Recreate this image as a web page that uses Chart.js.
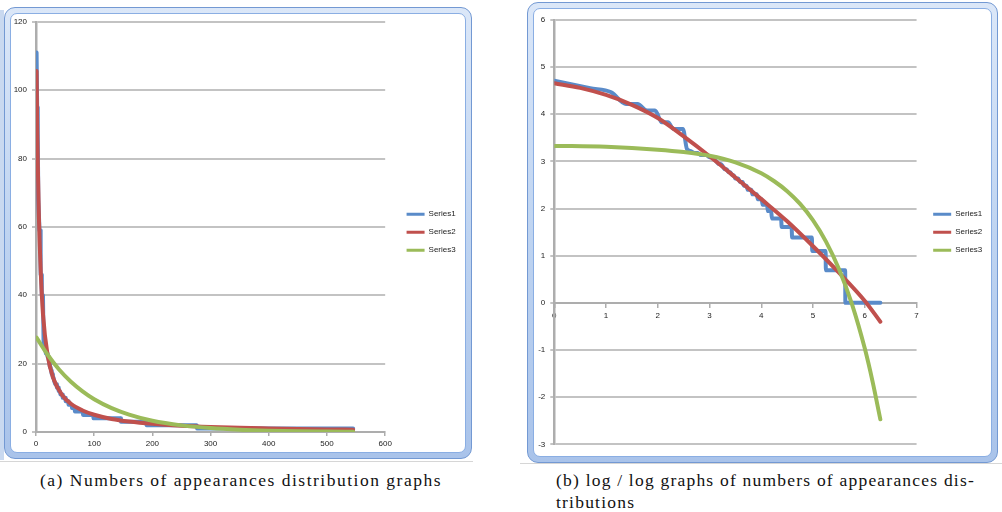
<!DOCTYPE html>
<html>
<head>
<meta charset="utf-8">
<title>Numbers of appearances distribution graphs</title>
<script src="https://cdn.jsdelivr.net/npm/chart.js@4.4.1/dist/chart.umd.min.js"></script>
<style>
  html, body { margin:0; padding:0; background:#fff; }
  body { width:1002px; height:512px; position:relative; overflow:hidden; }
  .frame { position:absolute; box-sizing:border-box; border:1px solid #7399d3; border-radius:11px;
           background:linear-gradient(180deg,#dbe7f8 0%,#bfd4f1 50%,#a9c3ea 100%); }
  .inner { position:absolute; left:5px; top:5px; right:5px; bottom:5px; background:#fff;
           border:1px solid #8aaee3; border-radius:7px; }
  canvas { position:absolute; }
  .cap { position:absolute; font-family:"Liberation Serif","DejaVu Serif",serif; font-size:17.5px; line-height:17px;
         color:#111; white-space:nowrap; }
  .sheet { position:absolute; background:#d6d6d6; }
</style>
</head>
<body>
<div class="sheet" style="left:0;top:461px;width:473px;height:1px"></div>
<div class="sheet" style="left:520px;top:463px;width:482px;height:1px"></div>
<div class="sheet" style="left:0;top:10px;width:4px;height:450px;background:#c9d9f0"></div>
<div class="frame" style="left:4px;top:7px;width:468px;height:452px"><div class="inner"></div></div>
<div class="frame" style="left:527px;top:2px;width:471px;height:461px"><div class="inner"></div></div>
<canvas id="linChart" width="457" height="442" style="left:10px;top:12px"></canvas>
<canvas id="logChart" width="460" height="449" style="left:533px;top:8px"></canvas>
<div class="cap" id="capA" style="left:40px;top:472px">(a) Numbers of appearances distribution graphs</div>
<div class="cap" id="capB1" style="left:556px;top:472px">(b) log / log graphs of numbers of appearances dis-</div>
<div class="cap" id="capB2" style="left:556px;top:494px">tributions</div>
<script>
// ---------- data: (a) numbers of appearances (rank -> count) ----------
const seriesNames = ['Series1', 'Series2', 'Series3'];

const linS1X = [1,2,3,4,5,6,7,8,9,10,12,13,14,15,16,17,19,20,21,22,23,24,25,26,27,28,29,30,31,32,33,35,36,38,39,41,42,45,46,50,51,55,56,61,62,66,67,80,81,98,99,145,146,189,190,276,277,545];
const linS1Y = [111,95,87,68,68,59,59,46,46,40,40,26,25,24,24,23,23,22,22,21,20,19,19,18,17,17,16,16,15,15,14,14,13,13,12,12,11,11,10,10,9,9,8,8,7,7,6,6,5,5,4,4,3,3,2,2,1,1];

const linS2X = [1,2,3,5,8,12,20,30,45,60,80,100,130,160,200,250,300,350,400,450,500,545];
const linS2Y = [105.6,90,79,62.8,47.5,34.5,22.4,15.6,10.8,8.25,6.3,5.05,3.82,3.06,2.39,1.85,1.49,1.23,1.05,0.89,0.76,0.67];

const linS3X = [1,20,40,60,80,100,130,160,200,250,300,350,400,450,500,545];
const linS3Y = [27.6,22.6,18.2,14.7,11.9,9.6,7.0,5.1,3.3,1.94,1.14,0.67,0.39,0.23,0.14,0.08];

const linXTicks = [0,100,200,300,400,500,600];
const linYTicks = [0,20,40,60,80,100,120];

// ---------- data: (b) log / log ----------
const logS1X = [0,0.693,1.099,1.386,1.609,1.792,1.946,2.079,2.197,2.303,2.485,2.565,2.639,2.708,2.773,2.833,2.944,2.996,3.045,3.091,3.135,3.178,3.219,3.258,3.296,3.332,3.367,3.401,3.434,3.466,3.497,3.555,3.584,3.638,3.664,3.714,3.738,3.807,3.829,3.912,3.932,4.007,4.025,4.111,4.127,4.190,4.205,4.382,4.394,4.585,4.595,4.977,4.984,5.242,5.247,5.620,5.624,6.301];
const logS1Y = [4.710,4.554,4.466,4.220,4.220,4.078,4.078,3.829,3.829,3.689,3.689,3.258,3.219,3.178,3.178,3.135,3.135,3.091,3.091,3.045,2.996,2.944,2.944,2.890,2.833,2.833,2.773,2.773,2.708,2.708,2.639,2.639,2.565,2.565,2.485,2.485,2.398,2.398,2.303,2.303,2.197,2.197,2.079,2.079,1.946,1.946,1.792,1.792,1.609,1.609,1.386,1.386,1.099,1.099,0.693,0.693,0,0];

const logS2X = [0,0.5,1,1.5,2,2.5,3,3.5,4,4.5,5,5.5,6,6.3];
const logS2Y = [4.66,4.56,4.41,4.20,3.92,3.53,3.11,2.66,2.20,1.73,1.20,0.64,0.04,-0.40];

const logS3X = [0,1,2,2.5,3,3.5,4,4.25,4.5,4.75,5,5.25,5.5,5.75,6,6.15,6.3];
const logS3Y = [3.33,3.31,3.25,3.20,3.12,2.98,2.75,2.58,2.37,2.10,1.75,1.30,0.72,-0.02,-0.97,-1.67,-2.47];

const logXTicks = [0,1,2,3,4,5,6,7];
const logYTicks = [-3,-2,-1,0,1,2,3,4,5,6];

// ---------- styling ----------
const COLORS = ['#5a8bc9', '#c0504d', '#9bbb59'];
const FONT = { family: '"Liberation Sans", Arial, sans-serif', size: 8 };
const TXT = '#222';
const GRID = '#c3c3c3';
const AXIS = '#adadad';

function pts(xs, ys) { return xs.map((x, i) => ({ x: x, y: ys[i] })); }

function legendLabels(chart) {
  const items = Chart.defaults.plugins.legend.labels.generateLabels(chart);
  return items.map(it => Object.assign(it, { fillStyle: it.strokeStyle, lineWidth: 0 }));
}

function buildChart(id, o) {
  const datasets = o.series.map((s, i) => ({
    label: seriesNames[i],
    data: pts(s.x, s.y),
    showLine: true,
    borderColor: COLORS[i],
    backgroundColor: COLORS[i],
    borderWidth: 4,
    pointRadius: 0,
    pointHoverRadius: 0,
    fill: false,
    order: 3 - i,
    cubicInterpolationMode: s.smooth ? 'monotone' : 'default',
    tension: 0,
    borderJoinStyle: 'round',
    borderCapStyle: 'round'
  }));
  const xTicks = o.xTicks, yTicks = o.yTicks;
  return new Chart(document.getElementById(id), {
    type: 'scatter',
    data: { datasets: datasets },
    options: {
      responsive: false,
      animation: false,
      events: [],
      layout: { padding: o.padding },
      plugins: {
        tooltip: { enabled: false },
        legend: {
          position: 'right',
          align: 'center',
          fullSize: o.legendFull,
          title: o.legendShift
            ? { display: true, text: '', padding: 0, font: { size: 8, lineHeight: o.legendShift + 'px' } }
            : { display: false },
          labels: {
            boxWidth: 18, boxHeight: 3, padding: 10, font: FONT, color: TXT,
            generateLabels: legendLabels,
            sort: (a, b) => a.datasetIndex - b.datasetIndex
          }
        }
      },
      scales: {
        x: {
          type: 'linear',
          position: o.xPosition,
          min: xTicks[0], max: xTicks[xTicks.length - 1],
          afterBuildTicks: s => { s.ticks = xTicks.map(v => ({ value: v })); },
          afterFit: s => { if (o.xHeight !== undefined) s.height = o.xHeight; },
          ticks: { font: FONT, color: TXT, padding: o.xPad, maxRotation: 0, autoSkip: false },
          grid: { drawOnChartArea: false, color: AXIS, lineWidth: 1.5, tickLength: 4 },
          border: { color: AXIS, width: 2 }
        },
        y: {
          type: 'linear',
          position: 'left',
          min: yTicks[0], max: yTicks[yTicks.length - 1],
          afterBuildTicks: s => { s.ticks = yTicks.map(v => ({ value: v })); },
          afterFit: s => { s.width = o.yWidth; },
          ticks: { font: FONT, color: TXT, padding: 5, autoSkip: false },
          grid: { color: GRID, lineWidth: 2, tickLength: 4 },
          border: { color: AXIS, width: 2.5 }
        },
        pad: {
          type: 'linear',
          position: 'right',
          display: true,
          grid: { display: false },
          border: { display: false },
          ticks: { display: false },
          afterFit: s => { s.width = o.gap; }
        }
      }
    }
  });
}

buildChart('linChart', {
  series: [
    { x: linS1X, y: linS1Y, smooth: false },
    { x: linS2X, y: linS2Y, smooth: true },
    { x: linS3X, y: linS3Y, smooth: true }
  ],
  xTicks: linXTicks, yTicks: linYTicks,
  xPosition: 'bottom', xHeight: 22, xPad: 3,
  yWidth: 26, gap: 11.4,
  legendFull: false, legendShift: 10.6,
  padding: { top: 8, bottom: 0, left: 0, right: 1.3 }
});

buildChart('logChart', {
  series: [
    { x: logS1X, y: logS1Y, smooth: true },
    { x: logS2X, y: logS2Y, smooth: true },
    { x: logS3X, y: logS3Y, smooth: true }
  ],
  xTicks: logXTicks, yTicks: logYTicks,
  xPosition: { y: 0 }, xPad: 4,
  yWidth: 21.3, gap: 6.6,
  legendFull: true, legendShift: 0,
  padding: { top: 12, bottom: 12.7, left: 0, right: 0.7 }
});

// ---------- captions: spread letters to the reference line widths ----------
function fitLetters(el, target) {
  const w = el.getBoundingClientRect().width;
  const n = el.textContent.length;
  const ls = (target - w) / n;
  el.style.letterSpacing = ls + 'px';
  return ls;
}
fitLetters(document.getElementById('capA'), 402);
const lsB = fitLetters(document.getElementById('capB1'), 419);
document.getElementById('capB2').style.letterSpacing = lsB + 'px';
</script>
</body>
</html>
